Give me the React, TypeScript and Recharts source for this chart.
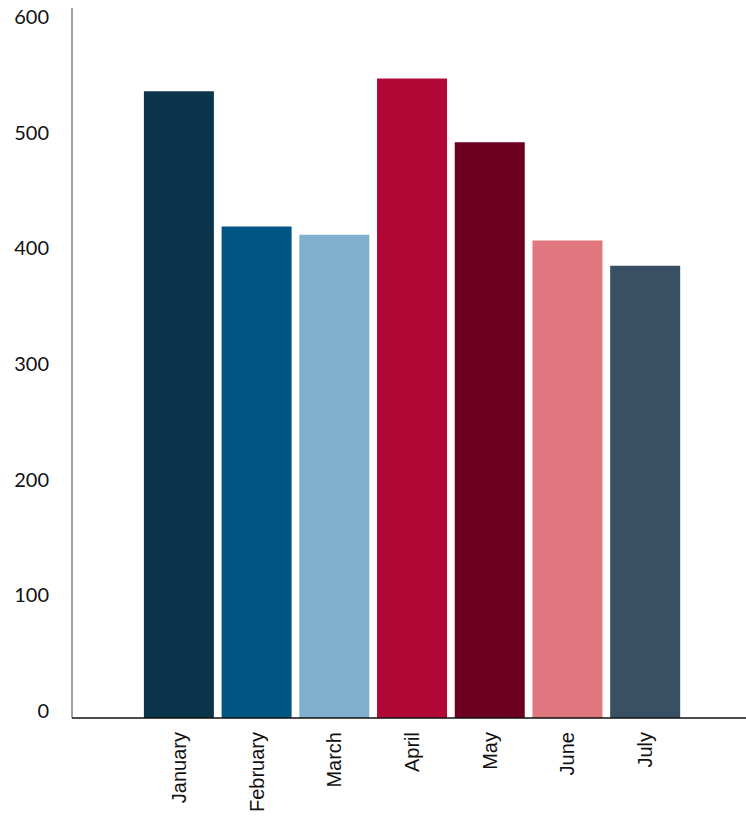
import React from "react";
import { BarChart, Bar, XAxis, YAxis, Cell } from "recharts";

const months = ["January", "February", "March", "April", "May", "June", "July"];
const totals = [542, 425, 418, 553, 498, 413, 391];
const barColors = ["#0b354b", "#015582", "#7fb1ce", "#b20838", "#6d0020", "#e0777e", "#394f64"];
const yTicks = [0, 100, 200, 300, 400, 500, 600];

const data = months.map((m, i) => ({ month: m, total: totals[i] }));

type TickProps = { x?: number; y?: number; payload?: { value: string | number } };

function MonthTick({ x = 0, y = 0, payload }: TickProps) {
  return (
    <text
      x={0}
      y={0}
      dy="0.35em"
      transform={`translate(${x},${y + 6}) rotate(-90)`}
      textAnchor="end"
      fontFamily="'Liberation Sans', Arial, sans-serif"
      fontSize={20}
      fill="#111"
    >
      {payload?.value}
    </text>
  );
}

function ValueTick({ x = 0, y = 0, payload }: TickProps) {
  return (
    <text
      x={x - 15}
      y={y}
      textAnchor="end"
      fontFamily="Lato, 'Noto Sans', sans-serif"
      fontSize={20}
      fill="#111"
    >
      {payload?.value}
    </text>
  );
}

export default function App() {
  return (
    <div style={{ position: "absolute", left: 0, top: 0, width: 746, height: 817, background: "#fff" }}>
      <BarChart
        width={746}
        height={817}
        data={data}
        margin={{ top: 8, right: 0, bottom: 0, left: 0 }}
        barCategoryGap="5%"
      >
        <XAxis
          dataKey="month"
          padding={{ left: 68, right: 62 }}
          tickLine={false}
          axisLine={{ stroke: "#111", strokeWidth: 1.5 }}
          tick={<MonthTick />}
          interval={0}
          height={99}
        />
        <YAxis
          width={72}
          domain={[0, 614]}
          ticks={yTicks}
          tickLine={false}
          axisLine={{ stroke: "#444", strokeWidth: 1 }}
          tick={<ValueTick />}
        />
        <Bar dataKey="total" isAnimationActive={false}>
          {data.map((d, i) => (
            <Cell key={d.month} fill={barColors[i]} />
          ))}
        </Bar>
      </BarChart>
    </div>
  );
}
